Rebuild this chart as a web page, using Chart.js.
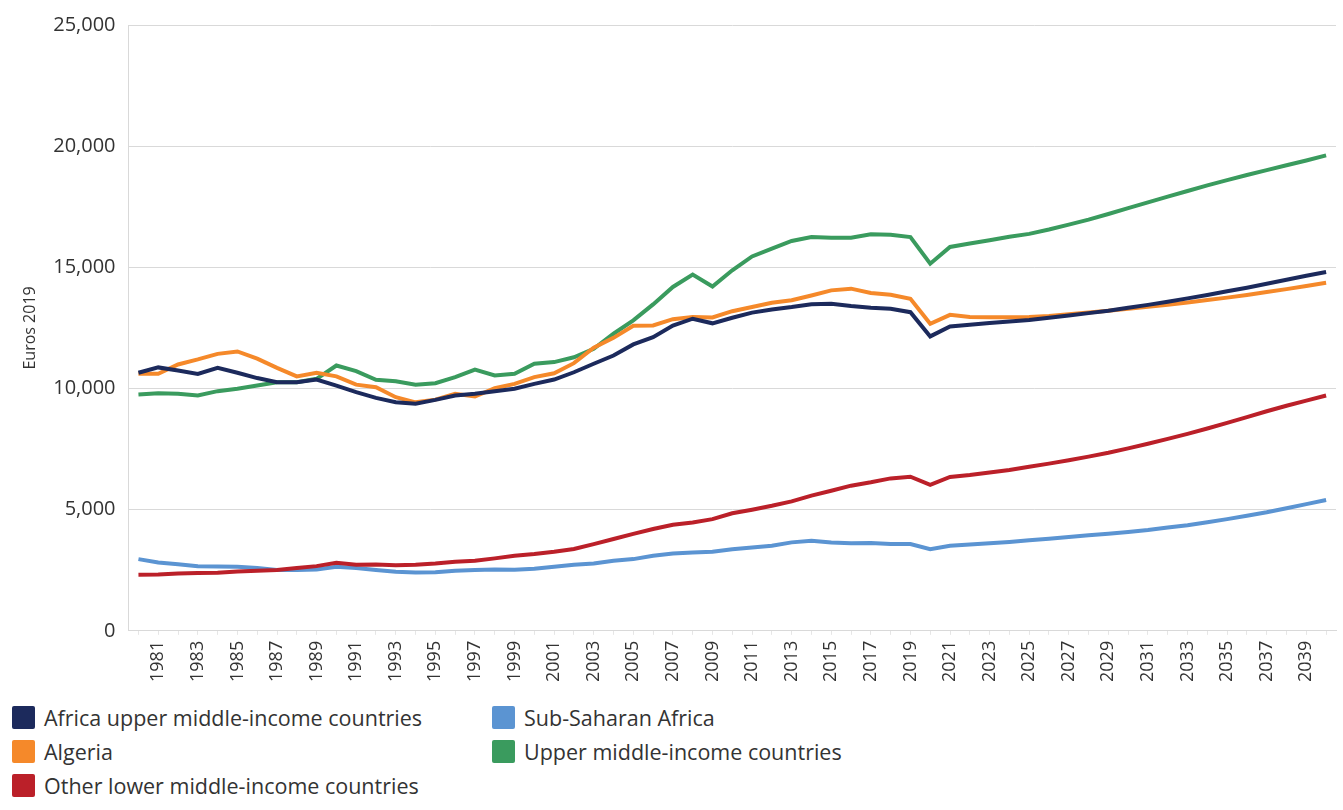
<!DOCTYPE html>
<html>
<head>
<meta charset="utf-8">
<script src="https://cdn.jsdelivr.net/npm/chart.js@4.4.1/dist/chart.umd.min.js"></script>
<style>
  html, body { margin: 0; padding: 0; background: #fff; }
  body { width: 1343px; height: 810px; position: relative; overflow: hidden; font-family: "Open Sans", sans-serif; }
  #chart-box { position: absolute; left: 0; top: 0; width: 1343px; height: 688px; }
  #legend {
    position: absolute; left: 12px; top: 700px;
    display: grid; grid-template-rows: repeat(3, 34px); grid-auto-flow: column;
    grid-template-columns: 480px 400px;
  }
  .legend-item { display: flex; align-items: center; color: #333; font-size: 21.5px; }
  .legend-box { width: 23px; height: 23px; border-radius: 2px; margin-right: 9px; flex: none; }
</style>
</head>
<body>
<div id="chart-box"><canvas id="gdp-chart"></canvas></div>
<div id="legend"></div>
<script>
// Categories
const years = [
  '1980','1981','1982','1983','1984','1985','1986','1987','1988','1989',
  '1990','1991','1992','1993','1994','1995','1996','1997','1998','1999',
  '2000','2001','2002','2003','2004','2005','2006','2007','2008','2009',
  '2010','2011','2012','2013','2014','2015','2016','2017','2018','2019',
  '2020','2021','2022','2023','2024','2025','2026','2027','2028','2029',
  '2030','2031','2032','2033','2034','2035','2036','2037','2038','2039','2040'
];

// Only these years get a label on the x axis
const shownYears = [
  '1981','1983','1985','1987','1989','1991','1993','1995','1997','1999',
  '2001','2003','2005','2007','2009','2011','2013','2015','2017','2019',
  '2021','2023','2025','2027','2029','2031','2033','2035','2037','2039'
];

const yTicks = [0, 5000, 10000, 15000, 20000, 25000];

// Series values (Euros 2019)
const africaUpper = [
  10650, 10870, 10740, 10600, 10850, 10650, 10430, 10260, 10260, 10370,
  10120, 9850, 9615, 9435, 9370, 9530, 9710, 9780, 9890, 9990,
  10190, 10370, 10670, 11020, 11360, 11820, 12120, 12600, 12880, 12690,
  12920, 13130, 13260, 13360, 13480, 13500, 13400, 13330, 13290, 13150,
  12150, 12560, 12630, 12700, 12760, 12830, 12920, 13010, 13110, 13210,
  13330, 13450, 13580, 13720, 13860, 14010, 14160, 14320, 14490, 14650, 14810
];

const algeria = [
  10610, 10610, 10990, 11200, 11430, 11530, 11230, 10850, 10500, 10650,
  10500, 10160, 10050, 9640, 9430, 9540, 9780, 9670, 10010, 10190,
  10470, 10630, 11045, 11680, 12090, 12590, 12600, 12860, 12950, 12930,
  13190, 13360, 13540, 13640, 13840, 14050, 14120, 13940, 13870, 13700,
  12670, 13040, 12950, 12940, 12940, 12950, 12990, 13060, 13140, 13210,
  13290, 13370, 13460, 13550, 13650, 13750, 13860, 13980, 14100, 14230, 14360
];

const otherLower = [
  2310, 2320, 2370, 2390, 2400, 2450, 2480, 2510, 2590, 2670,
  2810, 2730, 2740, 2710, 2730, 2780, 2850, 2890, 2990, 3100,
  3170, 3260, 3375, 3580, 3790, 4000, 4200, 4380, 4470, 4610,
  4850, 5000, 5160, 5340, 5580, 5780, 5990, 6130, 6290, 6360,
  6020, 6350, 6430, 6530, 6640, 6770, 6900, 7040, 7190, 7350,
  7530, 7720, 7920, 8130, 8350, 8580, 8820, 9060, 9290, 9500, 9710
];

const subSaharan = [
  2960, 2820, 2750, 2670, 2650, 2640, 2590, 2510, 2510, 2530,
  2640, 2590, 2510, 2440, 2410, 2420, 2480, 2510, 2530, 2520,
  2560, 2640, 2730, 2780, 2890, 2960, 3100, 3190, 3230, 3260,
  3370, 3440, 3510, 3650, 3720, 3650, 3610, 3620, 3580, 3580,
  3370, 3510, 3560, 3610, 3670, 3740, 3800, 3870, 3940, 4010,
  4080, 4160, 4260, 4360, 4480, 4610, 4750, 4890, 5060, 5230, 5400
];

const upperMiddle = [
  9750, 9800, 9780, 9710, 9890, 9990, 10120, 10260, 10260, 10400,
  10950, 10720, 10360, 10300, 10160, 10220, 10470, 10780, 10540, 10610,
  11020, 11090, 11290, 11640, 12260, 12810, 13470, 14190, 14700, 14210,
  14880, 15450, 15770, 16090, 16250, 16220, 16220, 16360, 16340, 16250,
  15150, 15840, 15980, 16120, 16260, 16380, 16560, 16760, 16970, 17200,
  17440, 17680, 17920, 18150, 18380, 18600, 18810, 19010, 19210, 19410, 19620
];

const seriesList = [
  { label: 'Africa upper middle-income countries', data: africaUpper, color: '#1c2a5c' },
  { label: 'Algeria', data: algeria, color: '#f5892a' },
  { label: 'Other lower middle-income countries', data: otherLower, color: '#bb2029' },
  { label: 'Sub-Saharan Africa', data: subSaharan, color: '#5b94d2' },
  { label: 'Upper middle-income countries', data: upperMiddle, color: '#3a9b5e' }
];

const FONT = '"Open Sans", sans-serif';
const TEXT = '#333333';
const GRID = '#d9d9d9';

// Legend (two columns, built in HTML)
const legend = document.getElementById('legend');
legend.innerHTML = seriesList.map(s => `
  <div class="legend-item"><span class="legend-box" style="background:${s.color}"></span>${s.label}</div>
`).join('');

const ctx = document.getElementById('gdp-chart').getContext('2d');
new Chart(ctx, {
  type: 'line',
  data: {
    labels: years,
    datasets: seriesList.map(s => ({
      label: s.label,
      data: s.data,
      borderColor: s.color,
      backgroundColor: s.color,
      borderWidth: 4,
      pointRadius: 0,
      tension: 0,
      fill: false
    }))
  },
  options: {
    responsive: true,
    maintainAspectRatio: false,
    animation: false,
    layout: { padding: { left: 15, right: 7, top: 16, bottom: 0 } },
    plugins: {
      legend: { display: false },
      tooltip: { enabled: false }
    },
    scales: {
      x: {
        offset: true,
        // the last rotated label is blank, so no room is needed for it
        afterFit: axis => { axis.paddingRight = 0; },
        grid: { display: true, drawOnChartArea: false, drawTicks: true, tickLength: 4, color: '#e6e6e6' },
        border: { display: true, color: GRID, width: 1 },
        ticks: {
          autoSkip: false,
          maxRotation: 90,
          minRotation: 90,
          padding: 6,
          color: TEXT,
          font: { family: FONT, size: 18 },
          callback: function (value) {
            const y = this.getLabelForValue(value);
            return shownYears.includes(y) ? y : '';
          }
        }
      },
      y: {
        min: yTicks[0],
        max: yTicks[yTicks.length - 1],
        afterBuildTicks: axis => { axis.ticks = yTicks.map(v => ({ value: v })); },
        grid: { color: GRID, lineWidth: 1, drawTicks: false },
        border: { display: true, color: GRID, width: 1 },
        ticks: {
          padding: 13,
          color: TEXT,
          font: { family: FONT, size: 20 },
          callback: v => v.toLocaleString('en-US')
        },
        title: {
          display: true,
          text: 'Euros 2019',
          color: TEXT,
          font: { family: FONT, size: 16 },
          padding: { top: 6, bottom: 0 }
        }
      }
    }
  }
});
</script>
</body>
</html>
